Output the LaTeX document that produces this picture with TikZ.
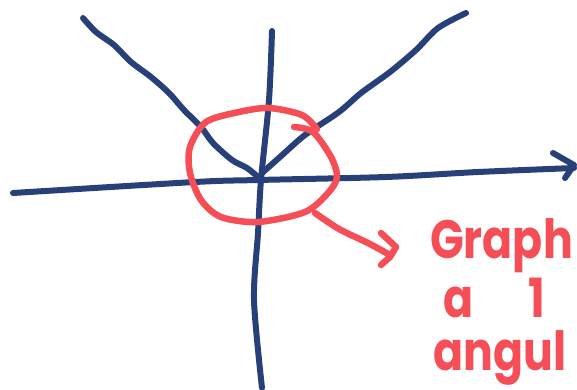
\documentclass[tikz,border=0pt]{standalone}
\usepackage{fontspec}
\newfontfamily\handfont{Poppins}
\definecolor{navy}{RGB}{40,64,122}
\definecolor{pen}{RGB}{246,78,86}
\begin{document}
\begin{tikzpicture}[x=1pt,y=-1pt,
    axis/.style={line width=6pt, navy, line cap=round, line join=round},
    ink/.style={line width=6.5pt, pen, line cap=round, line join=round},
    note/.style={pen, anchor=base west, inner sep=0pt,
        font=\handfont\bfseries\fontsize{54}{54}\selectfont}]
    \useasboundingbox (0,0) rectangle (577,390);
    \clip (0,0) rectangle (577,390);

    % axes
    \draw[axis] plot[smooth] coordinates {(13,193) (195,182) (258,180) (386,177) (478,172) (574,168)};
    \draw[axis] (553,153) -- (574,165) -- (565,178);
    \draw[axis] plot[smooth] coordinates {(272,31) (269,100) (261,180) (258,233) (254,300) (262,388)};

    % the two branches of the graph
    \draw[axis] plot[smooth] coordinates {(83,18) (96,32) (114,45) (131,62) (151,77) (169,93)
        (184,110) (201,127) (213,143) (232,160) (247,168) (258,177)};
    \draw[axis] plot[smooth] coordinates {(262,173) (280,157) (305,135) (339,112) (361,93)
        (390,72) (416,50) (438,28) (466,13)};

    % red ring round the corner
    \draw[ink] plot[smooth] coordinates {(294,127) (313,132) (331,157) (337,177) (328,193)
        (305,212) (258,222) (221,217) (201,200) (190,173) (190,147) (206,122) (239,112)
        (269,108) (302,115) (317,129)};

    % pointer to the note
    \coordinate (tail) at (315,213);
    \coordinate (head) at (390,255);
    \draw[ink] plot[smooth] coordinates {(tail) (339,229) (368,243) (head)};
    \draw[ink] (381,233) -- (396,247) -- (390,257) -- (381,265);

    \node[note] (line1) at (430,258) {\scalebox{0.82}[1]{Graph}};
    \node[note] (line2) at (443,317) {\scalebox{0.82}[1]{a\hspace{1.25em}1}};
    \node[note] (line3) at (433,370) {\scalebox{0.82}[1]{angul}};
\end{tikzpicture}
\end{document}
